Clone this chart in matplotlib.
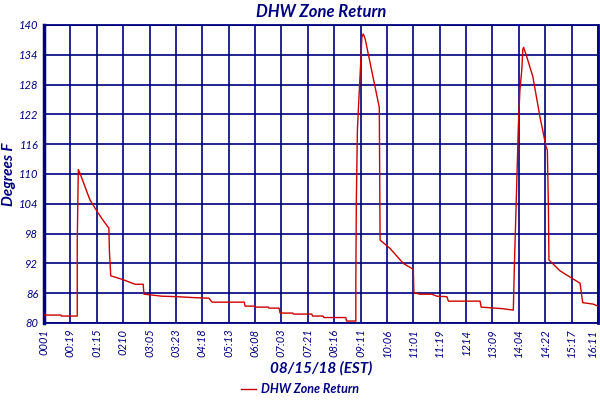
import matplotlib
matplotlib.use('Agg')
import matplotlib.pyplot as plt

# x positions are in units of the (evenly spaced) time tick labels
tick_labels = ['0001', '00:19', '01:15', '0210', '03:05', '03:23', '04:18',
               '05:13', '06:08', '07:03', '07:21', '08:16', '09:11', '10:06',
               '11:01', '11:19', '1214', '13:09', '14:04', '14:22', '15:17',
               '16:11']
y_ticks = [80, 86, 92, 98, 104, 110, 116, 122, 128, 134, 140]

t = [0.00, 0.64, 0.66, 1.26, 1.26, 1.30, 1.36, 1.74, 2.02, 2.25, 2.46, 2.48,
     2.53, 3.01, 3.45, 3.76, 3.79, 4.14, 4.46, 5.03, 5.72, 6.25, 6.37, 7.59,
     7.62, 8.00, 8.04, 8.50, 8.53, 8.91, 8.95, 9.43, 9.46, 10.15, 10.18,
     10.58, 10.61, 11.44, 11.47, 11.82, 11.82, 11.84, 11.88, 11.94, 12.01,
     12.05, 12.10, 12.17, 12.71, 12.74, 13.12, 13.62, 14.00, 14.02, 14.25,
     14.70, 14.89, 15.27, 15.33, 16.53, 16.57, 17.35, 17.79, 17.83, 17.92,
     17.98, 18.04, 18.11, 18.15, 18.18, 18.30, 18.53, 18.80, 19.03, 19.08,
     19.12, 19.14, 19.56, 20.32, 20.42, 20.82, 21.00]
temp = [81.6, 81.6, 81.4, 81.4, 96.1, 110.9, 110.2, 104.8, 102.4, 100.6, 99.1,
        94.4, 89.5, 88.7, 87.8, 87.8, 85.8, 85.6, 85.4, 85.3, 85.1, 85.0, 84.2,
        84.2, 83.4, 83.4, 83.2, 83.2, 83.0, 83.0, 82.0, 82.0, 81.8, 81.8, 81.4,
        81.4, 81.1, 81.1, 80.4, 80.4, 88.3, 104.8, 118.9, 125.6, 132.9, 137.6,
        138.2, 137.3, 123.4, 96.7, 95.0, 92.0, 90.8, 86.1, 85.8, 85.8, 85.4,
        85.3, 84.4, 84.4, 83.2, 82.9, 82.6, 91.5, 108.1, 119.5, 126.9, 130.9,
        135.1, 135.5, 133.6, 129.6, 121.5, 115.5, 114.8, 103.4, 92.7, 90.5,
        88.0, 84.1, 83.8, 83.4]

navy = '#000080'
plt.rcParams['font.family'] = ['Lato', 'DejaVu Sans']

fig = plt.figure(figsize=(6, 4), dpi=100)
ax = fig.add_axes([44/600, 77/400, 554/600, 298/400])

line, = ax.plot(t, temp, color='#cc0000', lw=1.0, label='DHW Zone Return',
                zorder=3)

ax.set_xlim(0, len(tick_labels) - 1)
ax.set_ylim(80, 140)
ax.set_xticks(range(len(tick_labels)))
ax.set_xticklabels(tick_labels, rotation=90, style='italic', color=navy,
                   fontsize=8)
# keep the last label inside the figure edge
ax.get_xticklabels()[-1].set_horizontalalignment('right')
ax.set_yticks(y_ticks)
ax.set_yticklabels([str(v) for v in y_ticks], style='italic', color=navy,
                   fontsize=8)
ax.tick_params(length=0, pad=4)
ax.grid(True, color=navy, lw=1.2)
ax.set_axisbelow(True)
for side in ['top', 'bottom', 'right']:
    ax.spines[side].set_color(navy)
    ax.spines[side].set_linewidth(1.3)
ax.spines['left'].set_color(navy)
ax.spines['left'].set_linewidth(2.5)
ax.spines['right'].set_linewidth(2.0)

ax.set_title('DHW Zone Return', color=navy, fontsize=12, weight='bold',
             style='italic', pad=6)
ax.set_ylabel('Degrees F', color=navy, fontsize=11, weight='bold',
              style='italic', labelpad=2)
ax.set_xlabel('08/15/18 (EST)', color=navy, fontsize=11, weight='bold',
              style='italic', labelpad=3)

leg = fig.legend(handles=[line], loc='center', bbox_to_anchor=(0.5, 11/400),
                 frameon=False, handlelength=1.2, handletextpad=0.4,
                 prop={'size': 9, 'weight': 'bold', 'style': 'italic'})
for txt in leg.get_texts():
    txt.set_color(navy)

fig.savefig('out.png', dpi=100)
